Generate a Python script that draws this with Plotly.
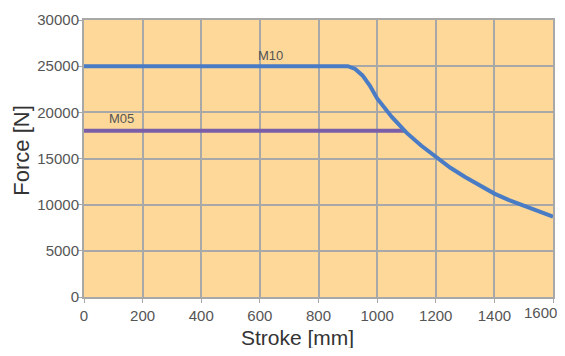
import plotly.graph_objects as go

m10_stroke = [0, 900, 925, 950, 975, 1000, 1050, 1100, 1150, 1200, 1250, 1300, 1350, 1400, 1450, 1500, 1550, 1600]
m10_force = [25000, 25000, 24700, 24000, 22900, 21500, 19500, 17800, 16400, 15200, 14000, 13000, 12100, 11200, 10500, 9900, 9300, 8700]
m05_stroke = [0, 1095]
m05_force = [18000, 18000]
x_ticks = [0, 200, 400, 600, 800, 1000, 1200, 1400, 1600]
x_tick_labels = ["0", "200", "400", "600", "800", "1000", "1200", "1400", "1600"]
y_ticks = [0, 5000, 10000, 15000, 20000, 25000, 30000]
y_tick_labels = ["0", "5000", "10000", "15000", "20000", "25000", "30000"]

fig = go.Figure()
fig.add_trace(go.Scatter(x=m05_stroke, y=m05_force, mode="lines",
                         line=dict(color="#7B5EA8", width=4), showlegend=False))
fig.add_trace(go.Scatter(x=m10_stroke, y=m10_force, mode="lines",
                         line=dict(color="#4A7BC5", width=4), showlegend=False))
fig.add_annotation(x=635, y=25000, text="M10", showarrow=False, yshift=11,
                   font=dict(size=13, color="#555"))
fig.add_annotation(x=128, y=18000, text="M05", showarrow=False, yshift=12,
                   font=dict(size=13, color="#555"))
fig.add_annotation(xref="paper", yref="paper", x=-0.135, y=0.527, text="Force [N]",
                   textangle=-90, showarrow=False, xanchor="center", yanchor="middle",
                   font=dict(size=22, color="#333"))
fig.add_annotation(xref="paper", yref="paper", x=0.455, y=-0.145, text="Stroke [mm]",
                   showarrow=False, xanchor="center", yanchor="middle",
                   font=dict(size=21, color="#333"))
# last x tick label, placed inside the figure (the axis' own label would be clipped)
fig.add_annotation(x=x_ticks[-1], xref="x", yref="paper", y=0, text=x_tick_labels[-1],
                   showarrow=False, xanchor="right", yanchor="top", xshift=6, yshift=-5,
                   font=dict(size=15, color="#555"))

# page body has an 8px margin, so the figure is sized to fit the 565x356 window
fig.update_layout(
    width=549, height=340,
    margin=dict(l=76, r=4, t=12, b=51),
    plot_bgcolor="#FDD898", paper_bgcolor="white",
    font=dict(family="Liberation Sans, Arial", color="#555"),
)
fig.update_xaxes(range=[0, 1600], tickvals=x_ticks, ticktext=x_tick_labels[:-1] + [""],
                 showgrid=True, gridcolor="#A8A8A8", automargin=False,
                 gridwidth=2, linecolor="#A8A8A8", linewidth=2, mirror=True,
                 ticks="outside", ticklen=4, tickcolor="#A8A8A8", tickfont=dict(size=15),
                 zeroline=False)
fig.update_yaxes(range=[0, 30000], tickvals=y_ticks, ticktext=y_tick_labels,
                 showgrid=True, gridcolor="#A8A8A8", automargin=False,
                 gridwidth=2, linecolor="#A8A8A8", linewidth=2, mirror=True,
                 ticks="outside", ticklen=4, tickcolor="#A8A8A8", tickfont=dict(size=15),
                 ticklabelstandoff=-4,
                 zeroline=False)
fig.write_html("out.html")
